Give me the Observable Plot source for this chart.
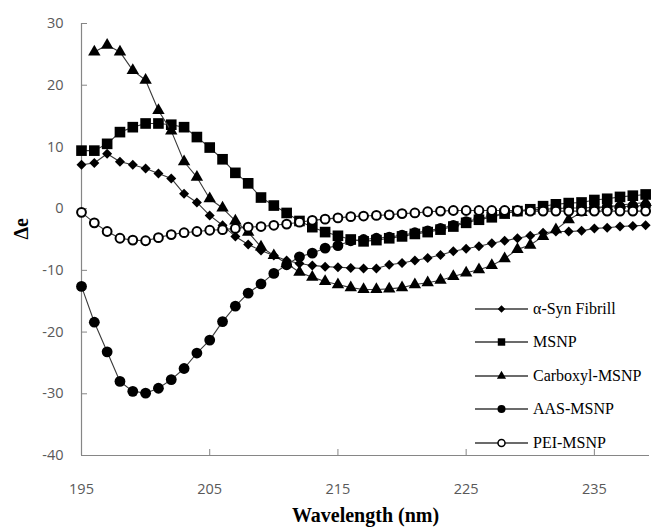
<!DOCTYPE html>
<html><head><meta charset="utf-8">
<script src="https://cdn.jsdelivr.net/npm/d3@7"></script>
<script src="https://cdn.jsdelivr.net/npm/@observablehq/plot@0.6"></script>
<style>
body{margin:0;background:#fff;}
#wrap{position:relative;width:654px;height:532px;}
.legend{position:absolute;left:475px;top:0;font-family:"Liberation Serif","Times New Roman",serif;font-size:16px;color:#000;}
.legend .row{position:absolute;left:0;height:20px;width:180px;white-space:nowrap;}
.legend svg{position:absolute;left:0;top:0;}
.legend span{position:absolute;left:58px;top:0;line-height:20px;}
</style></head><body><div id="wrap"></div>
<script>
const wavelength = [195,196,197,198,199,200,201,202,203,204,205,206,207,208,209,210,211,212,213,214,215,216,217,218,219,220,221,222,223,224,225,226,227,228,229,230,231,232,233,234,235,236,237,238,239];
const alphaSyn = [7.1,7.4,8.9,7.6,7.1,6.5,5.7,4.9,2.4,1.0,-1.1,-2.7,-4.5,-5.8,-6.8,-7.6,-8.4,-8.9,-9.2,-9.4,-9.5,-9.6,-9.7,-9.7,-9.1,-8.8,-8.4,-8.0,-7.5,-6.9,-6.5,-6.1,-5.6,-5.2,-4.8,-4.4,-3.9,-3.7,-3.7,-3.6,-3.2,-3.1,-2.9,-2.8,-2.7];
const msnp = [9.4,9.4,10.5,12.4,13.2,13.8,13.8,13.6,13.2,11.6,9.9,8.0,5.8,4.1,1.8,0.5,-0.7,-2.0,-3.0,-3.8,-4.4,-5.0,-5.3,-5.1,-4.8,-4.5,-4.1,-3.8,-3.4,-2.9,-2.3,-1.8,-1.4,-0.8,-0.4,-0.1,0.4,0.7,0.9,1.0,1.4,1.6,1.9,2.1,2.3];
const carboxyl = [null,25.4,26.5,25.4,22.4,20.8,15.9,12.6,7.6,5.1,1.6,0.1,-2.0,-3.8,-6.2,-7.6,-8.9,-10.3,-11.1,-11.8,-12.3,-12.8,-13.1,-13.1,-13.0,-12.8,-12.3,-12.0,-11.6,-11.0,-10.4,-9.9,-9.2,-8.1,-6.6,-5.9,-4.5,-3.4,-1.8,-0.6,0.0,0.3,0.6,0.8,1.0];
const aas = [-12.6,-18.4,-23.2,-28.0,-29.6,-29.9,-29.1,-27.7,-25.9,-23.4,-21.3,-18.3,-15.8,-13.7,-12.2,-10.5,-9.1,-7.8,-7.2,-6.4,-6.0,-5.2,-5.0,-4.8,-4.6,-4.3,-3.9,-3.6,-3.2,-2.7,-2.1,-1.6,-1.2,-0.7,-0.4,-0.2,-0.1,0.0,0.1,0.1,0.2,0.3,0.3,0.4,0.5];
const pei = [-0.6,-2.3,-3.7,-4.8,-5.1,-5.2,-4.7,-4.2,-3.9,-3.7,-3.5,-3.4,-3.2,-3.0,-2.9,-2.7,-2.5,-2.2,-1.9,-1.7,-1.5,-1.3,-1.2,-1.1,-1.0,-0.8,-0.7,-0.5,-0.4,-0.3,-0.3,-0.3,-0.3,-0.3,-0.3,-0.4,-0.4,-0.4,-0.4,-0.4,-0.4,-0.4,-0.4,-0.4,-0.4];
const seriesNames = ["α-Syn Fibrill","MSNP","Carboxyl-MSNP","AAS-MSNP","PEI-MSNP"];
const xTicks = [195,205,215,225,235];
const yTicks = [-40,-30,-20,-10,0,10,20,30];
const xDomain = [195, 239.3];
const yDomain = [-40, 30];

const table = s => wavelength.map((w,i)=>({w, v: s[i]})).filter(d => d.v != null);
const seriesData = [alphaSyn, msnp, carboxyl, aas, pei].map(table);
const styles = [
  {symbol:"diamond2", r:4.5, fill:"black", stroke:"none", strokeWidth:0, lr:3.4},
  {symbol:"square", r:6.0, fill:"black", stroke:"none", strokeWidth:0, lr:4.2},
  {symbol:"triangle", r:4.6, fill:"black", stroke:"none", strokeWidth:0, lr:3.4},
  {symbol:"circle", r:5.4, fill:"black", stroke:"none", strokeWidth:0, lr:4.0},
  {symbol:"circle", r:4.4, fill:"white", stroke:"black", strokeWidth:2, lr:3.5}
];
const fmt = d => String(d);

const marks = [
  Plot.ruleX([xDomain[0]], {stroke:"#868686", strokeWidth:1.2}),
  Plot.ruleY([yDomain[0]], {stroke:"#868686", strokeWidth:1.2}),
  Plot.axisY({ticks:yTicks, tickSize:6, dx:6, tickFormat:()=>"", stroke:"#868686", label:null}),
  Plot.axisY({ticks:yTicks, tickSize:0, tickPadding:18, tickFormat:fmt, color:"#595959", label:null}),
  Plot.axisX({ticks:xTicks, tickSize:6, dy:-6, tickFormat:()=>"", stroke:"#868686", label:null}),
  Plot.axisX({ticks:xTicks, tickSize:0, tickPadding:28, tickFormat:fmt, color:"#595959", label:null}),
  Plot.text(["Wavelength (nm)"], {frameAnchor:"bottom", dy:66, fontFamily:"Liberation Serif", fontWeight:"bold", fontSize:20, fill:"black"}),
  Plot.text(["Δe"], {frameAnchor:"left", dx:-60, rotate:-90, fontFamily:"Liberation Serif", fontWeight:"bold", fontSize:20, fill:"black"})
];
seriesData.forEach((d,i)=>{
  const st = styles[i];
  marks.push(Plot.line(d, {x:"w", y:"v", stroke:"#3a3a3a", strokeWidth:1.1}));
  marks.push(Plot.dot(d, {x:"w", y:"v", symbol:st.symbol, r:st.r, fill:st.fill, stroke:st.stroke, strokeWidth:st.strokeWidth}));
});

const chart = Plot.plot({
  width:654, height:532,
  marginLeft:81, marginRight:5, marginTop:23, marginBottom:77,
  x:{domain:xDomain, label:null},
  y:{domain:yDomain, label:null},
  style:{fontFamily:"'Open Sans', sans-serif", fontSize:"14.5px", color:"#595959", background:"white"},
  marks
});
const wrap = document.getElementById("wrap");
wrap.appendChild(chart);

// legend
const legend = document.createElement("div");
legend.className = "legend";
const rowY = [309, 342, 376, 409, 443];
const symMap = {diamond2:d3.symbolDiamond2, square:d3.symbolSquare, triangle:d3.symbolTriangle, circle:d3.symbolCircle};
seriesNames.forEach((name,i)=>{
  const st = styles[i];
  const row = document.createElement("div");
  row.className = "row";
  row.style.top = (rowY[i]-10)+"px";
  const svg = d3.create("svg").attr("width",56).attr("height",20);
  svg.append("line").attr("x1",0).attr("x2",53).attr("y1",10).attr("y2",10).attr("stroke","#3a3a3a").attr("stroke-width",1.3);
  svg.append("path").attr("transform","translate(26.5,10)")
    .attr("d", d3.symbol(symMap[st.symbol], Math.PI*st.lr*st.lr)())
    .attr("fill", st.fill).attr("stroke", st.stroke).attr("stroke-width", st.strokeWidth ? 1.5 : 0);
  row.appendChild(svg.node());
  const sp = document.createElement("span");
  sp.textContent = name;
  row.appendChild(sp);
  legend.appendChild(row);
});
wrap.appendChild(legend);
</script></body></html>
